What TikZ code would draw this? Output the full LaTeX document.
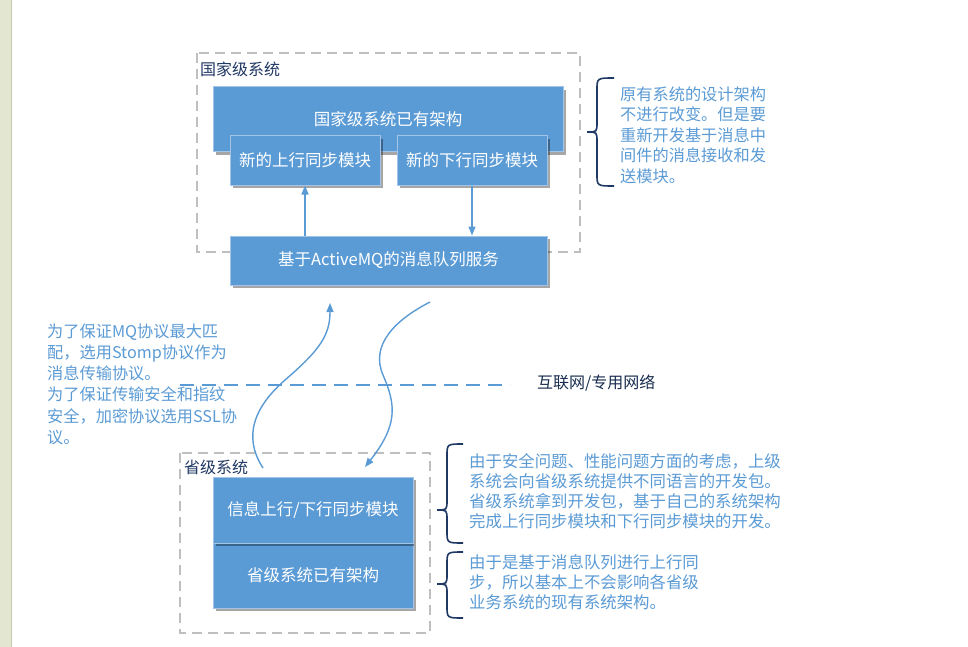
\documentclass[tikz,border=0pt]{standalone}
\usepackage{fontspec}
\setmainfont{Noto Sans CJK SC}
\usetikzlibrary{arrows.meta,shadows}
\definecolor{boxblue}{HTML}{5B9BD5}
\definecolor{boxedge}{HTML}{A3C4E6}
\definecolor{notetext}{HTML}{5B9BD5}
\definecolor{navy}{HTML}{203864}
\definecolor{dashgray}{HTML}{BFBFBF}
\definecolor{stripbg}{HTML}{E3E6D1}
\definecolor{stripline}{HTML}{C5C9B0}
\tikzset{
  bluebox/.style={draw=boxedge, line width=1pt, fill=boxblue, text=white,
    font=\fontsize{16.5}{19}\selectfont, inner sep=0pt,
    drop shadow={shadow xshift=3pt, shadow yshift=-3pt, fill=black, opacity=0.35}},
  groupbox/.style={draw=dashgray, line width=1.5pt, dash pattern=on 10pt off 6pt},
  grouplabel/.style={anchor=west, inner sep=0pt, text=navy, font=\fontsize{16}{19}\selectfont},
  note/.style={anchor=north west, inner sep=0pt, align=left, text=notetext},
  notebrace/.style={draw=navy, line width=1.6pt},
  flow/.style={draw=boxblue, line width=1.5pt, -{Triangle[length=9pt,width=7pt]}},
  netline/.style={draw=boxblue, line width=1.3pt, dash pattern=on 14pt off 8pt}
}
\begin{document}
\begin{tikzpicture}[x=1pt,y=-1pt]
\useasboundingbox (0,0) rectangle (968,647);
\fill[white] (0,0) rectangle (968,647);
\fill[stripbg] (0,0) rectangle (11,647);
\draw[stripline, line width=1pt] (11.5,0) -- (11.5,647);

% group boxes
\draw[groupbox] (197,53) rectangle (580,252);
\node[grouplabel] (natlabel) at (200,69) {国家级系统};
\draw[groupbox] (180,453) rectangle (430,633);
\node[grouplabel] (provlabel) at (184,467) {省级系统};

% national boxes
\node[bluebox, minimum width=350pt, minimum height=65pt] (natarch) at (388,119.5) {国家级系统已有架构};
\node[bluebox, minimum width=150pt, minimum height=49pt] (up) at (305,160.5) {新的上行同步模块};
\node[bluebox, minimum width=150pt, minimum height=49pt] (down) at (472,160.5) {新的下行同步模块};
\node[bluebox, minimum width=317pt, minimum height=49pt] (mq) at (388.5,260.5) {基于ActiveMQ的消息队列服务};

\draw[flow] (up.south |- mq.north) -- (up.south);
\draw[flow] (down.south) -- (down.south |- mq.north);

% provincial boxes
\node[bluebox, minimum width=200pt, minimum height=65pt] (provarch) at (313,575.5) {省级系统已有架构};
\node[bluebox, minimum width=200pt, minimum height=66pt] (sync) at (313,510) {信息上行/下行同步模块};

% network line
\coordinate (netL) at (180,385);
\coordinate (netR) at (510,385);
\draw[netline] (netL) -- (netR);
\node[grouplabel, text=navy!80!black] (netlabel) at (537,383) {互联网/专用网络};

% curved arrows
\coordinate (upstart) at (263,468);
\coordinate (upend) at (330,303);
\draw[flow, line width=1.4pt] (upstart) .. controls (248,445) and (245,415) .. (285,380) .. controls (320,350) and (330,335) .. (upend);
\coordinate (downstart) at (430,302);
\coordinate (downend) at (365,467);
\draw[flow, line width=1.4pt] (downstart) .. controls (395,320) and (370,345) .. (383,375) .. controls (396,405) and (398,425) .. (downend);

% braces
\draw[notebrace] (614,78) .. controls (597,78) .. (597,90) -- (597,122) .. controls (597,132) .. (587,132) .. controls (597,132) .. (597,142) -- (597,174) .. controls (597,186) .. (614,186);
\draw[notebrace] (463,444) .. controls (447,444) .. (447,456) -- (447,500) .. controls (447,510) .. (437,510) .. controls (447,510) .. (447,520) -- (447,531) .. controls (447,543) .. (463,543);
\draw[notebrace] (463,552) .. controls (447,552) .. (447,564) -- (447,574) .. controls (447,584) .. (437,584) .. controls (447,584) .. (447,594) -- (447,606) .. controls (447,618) .. (463,618);

% notes
\node[note, font=\fontsize{16.2}{20.5}\selectfont] (note1) at (620,86.5) {原有系统的设计架构\\不进行改变。但是要\\重新开发基于消息中\\间件的消息接收和发\\送模块。};
\node[note, font=\fontsize{16.2}{21.2}\selectfont] (note2) at (47,323.5) {为了保证MQ协议最大匹\\配，选用Stomp协议作为\\消息传输协议。\\为了保证传输安全和指纹\\安全，加密协议选用SSL协\\议。};
\node[note, font=\fontsize{16.4}{20}\selectfont] (note3) at (469,453.5) {由于安全问题、性能问题方面的考虑，上级\\系统会向省级系统提供不同语言的开发包。\\省级系统拿到开发包，基于自己的系统架构\\完成上行同步模块和下行同步模块的开发。};
\node[note, font=\fontsize{16.4}{20}\selectfont] (note4) at (469,554.5) {由于是基于消息队列进行上行同\\步，所以基本上不会影响各省级\\业务系统的现有系统架构。};
\end{tikzpicture}
\end{document}
